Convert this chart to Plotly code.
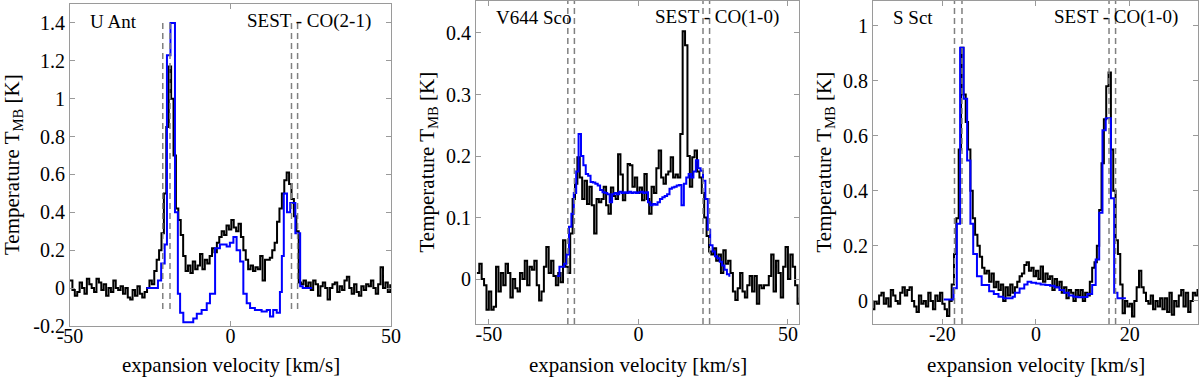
import numpy as np
import plotly.graph_objects as go

# --- U Ant, SEST CO(2-1) ---
uant_v0, uant_dv = -50.0, 0.75          # channel grid of the observed spectrum
uant_obs = [
    0.04, -0.01, -0.04, -0.02, 0.03, 0.0, -0.03, 0.05, 0.02, 0.0,
    -0.02, 0.05, 0.03, -0.01, 0.02, -0.04, 0.0, -0.02, 0.04, 0.0,
    -0.01, 0.01, -0.03, 0.0, -0.05, -0.06, -0.01, -0.04, 0.01, -0.03,
    -0.05, -0.02,
    0.0, 0.04, 0.02, 0.09, 0.15, 0.2, 0.29, 0.5,
    0.85, 1.17, 1.0, 0.7, 0.42, 0.36, 0.28, 0.17, 0.09, 0.12,
    0.08, 0.14, 0.10, 0.12, 0.18, 0.10, 0.15, 0.13, 0.17, 0.21,
    0.19, 0.24, 0.27, 0.30, 0.28, 0.33, 0.31, 0.36, 0.32, 0.30,
    0.34, 0.27, 0.20, 0.15, 0.10, 0.12, 0.09, 0.11, 0.10, 0.17,
    0.04, 0.15, 0.15, 0.16, 0.20, 0.24, 0.35, 0.42, 0.50, 0.57,
    0.61, 0.55, 0.47, 0.38, 0.30, 0.03, 0.02, 0.04,
    0.01, 0.03, -0.01, 0.04, 0.02, -0.04, 0.01, 0.03, 0.0, -0.06,
    0.0, 0.02, 0.03, -0.02, 0.01, -0.01, 0.04, 0.06, 0.0, -0.03,
    0.02, -0.02, -0.04, 0.01, -0.01, 0.02, 0.01, 0.04, 0.0, -0.03,
    0.02, 0.11, 0.0, 0.03, -0.02, 0.02,
]
uant_model_v = [-26.2, -22.6, -21.6, -20.5, -19.8, -18.7, -17.3, -16.4, -15.7, -14.7,
                -11.6, -10.5, -9.0, -7.4, -6.4, -4.8, -3.3, -1.2, -0.2, 0.9,
                1.9, 3.0, 4.0, 5.05, 6.1, 7.6, 9.7, 11.3, 12.3, 13.3,
                14.4, 15.4, 16.0, 16.6, 17.6, 18.6, 20.2, 21.7, 22.5, 25.4]
uant_model_t = [0.0, 0.04, 0.13, 0.23, 1.23, 1.40, 0.40, -0.03, -0.13, -0.18,
                -0.16, -0.135, -0.115, -0.08, -0.03, 0.21, 0.23, 0.22, 0.24, 0.27,
                0.20, 0.14, -0.03, -0.08, -0.105, -0.115, -0.124, -0.115, -0.15, -0.115,
                -0.13, -0.02, 0.17, 0.50, 0.40, 0.45, 0.29, 0.01, 0.0, 0.0]
uant_dash = [-21.1, -18.85, 19.0, 20.9]

# --- V644 Sco, SEST CO(1-0) ---
v644_v0, v644_dv = -54.0, 0.8
v644_obs = [
    0.01, 0.025, 0.0, -0.01, -0.05, -0.02, -0.05, -0.045, 0.02, -0.02,
    0.01, -0.01, 0.025, 0.01, -0.03, 0.0, -0.015, -0.02, 0.01, 0.0,
    0.03, -0.01, 0.02, 0.015, 0.03, -0.01, -0.035, -0.02, 0.02, 0.052,
    0.01, 0.03, 0.005, -0.01, 0.01, -0.005, 0.063, 0.02, 0.01, 0.074,
    0.13, 0.155, 0.198, 0.165, 0.13, 0.16, 0.122, 0.15, 0.12, 0.074,
    0.13, 0.125, 0.13, 0.15, 0.12, 0.106, 0.149, 0.135, 0.13, 0.203,
    0.17, 0.128, 0.14, 0.187, 0.185, 0.15, 0.165, 0.14, 0.149, 0.128,
    0.171, 0.13, 0.106, 0.15, 0.14, 0.18, 0.209, 0.165, 0.155, 0.17,
    0.175, 0.198, 0.165, 0.17, 0.165, 0.236, 0.403, 0.38, 0.2, 0.15,
    0.198, 0.209, 0.175, 0.165, 0.14, 0.1, 0.07, 0.045, 0.04, 0.05,
    0.03, 0.04, 0.01, 0.047, 0.025, 0.03, 0.01, -0.02, -0.034, -0.015,
    0.01, -0.02, -0.03, -0.01, 0.005, -0.02, 0.005, -0.04, -0.01, -0.015,
    -0.01, -0.01, 0.005, 0.04, -0.02, 0.03, 0.01, -0.03, 0.02, 0.052,
    0.0, 0.04, 0.02, -0.01, -0.04, -0.03,
]
v644_model_v0, v644_model_dv = -27.2, 0.8
v644_model = [
    0.005, 0.02, 0.02, 0.025, 0.04, 0.085, 0.106, 0.14, 0.175, 0.236,
    0.2, 0.185, 0.171, 0.168, 0.158, 0.157, 0.155, 0.152, 0.145, 0.141,
    0.14, 0.138, 0.125, 0.138, 0.14, 0.138, 0.142, 0.14, 0.141, 0.14,
    0.142, 0.14, 0.141, 0.14, 0.141, 0.142, 0.14, 0.141, 0.125, 0.12,
    0.122, 0.121, 0.125, 0.13, 0.133, 0.135, 0.138, 0.147, 0.149, 0.15,
    0.152, 0.153, 0.12, 0.155, 0.165, 0.171, 0.165, 0.175, 0.193, 0.18,
    0.176, 0.16, 0.13, 0.08, 0.055, 0.045, 0.037, 0.034, 0.028, 0.022,
    0.015, 0.008, 0.004,
]
v644_dash = [-23.6, -21.4, 21.6, 23.8]

# --- S Sct, SEST CO(1-0) ---
ssct_v0, ssct_dv = -35.0, 0.5
ssct_obs = [
    -0.03, 0.0, -0.01, 0.02, 0.03, -0.01, 0.01, -0.02, 0.04, 0.02,
    0.0, -0.01, 0.03, 0.05, 0.02, 0.04, 0.05, 0.0, -0.02, -0.04,
    0.02, -0.01, 0.0, -0.02, 0.03, 0.0, -0.03, 0.02, 0.0, 0.03,
    -0.01,
    -0.03, -0.055, 0.0, 0.06, 0.17, 0.3, 0.55, 0.92, 0.75,
    0.65, 0.55, 0.4, 0.3, 0.24, 0.2, 0.16, 0.12, 0.1, 0.11,
    0.07, 0.1, 0.05, 0.07, 0.04, 0.06, 0.0, 0.05, 0.02, 0.06,
    0.03, 0.05, 0.07, 0.09, 0.1, 0.13, 0.14, 0.11, 0.12, 0.09,
    0.11, 0.08, 0.125, 0.07, 0.1, 0.08, 0.09, 0.04, 0.08, 0.05,
    0.07, 0.03, 0.05, 0.01, 0.04, 0.03, 0.0, 0.04, 0.02, 0.04,
    0.0, 0.03, 0.02, 0.07, 0.12, 0.14, 0.2, 0.33, 0.5, 0.66,
    0.78, 0.83, 0.55, 0.4, 0.22, 0.17, 0.06, -0.045, 0.0, -0.02,
    -0.01, -0.057, 0.0, 0.05, 0.11, 0.05, 0.03, 0.0, -0.01, 0.02,
    -0.03, 0.0, -0.02, 0.01, -0.03, 0.01, -0.04, 0.03, -0.05, 0.0,
    -0.02, 0.02, 0.04, -0.02, 0.03, -0.04, 0.0, 0.03, 0.02, 0.04, 0.02,
]
ssct_model_v = [-19.7, -17.6, -16.9, -16.2, -15.45, -14.7, -14.0, -13.4, -12.6, -11.6,
                -10.0, -9.0, -8.0, -7.0, -6.0, -5.0, -4.5, -3.5, -2.5, -1.8,
                -1.0, 0.0, 1.0, 2.0, 3.0, 4.0, 5.0, 6.0, 7.0, 8.0,
                9.0, 10.0, 11.0, 12.0, 12.75, 13.5, 14.2, 14.9, 16.0, 16.7,
                17.4, 19.2]
ssct_model_t = [0.005, 0.046, 0.28, 0.92, 0.735, 0.51, 0.28, 0.17, 0.09, 0.058,
                0.035, 0.025, 0.015, 0.01, 0.01, 0.015, 0.03, 0.045, 0.06, 0.07,
                0.066, 0.063, 0.06, 0.058, 0.055, 0.05, 0.04, 0.03, 0.02, 0.015,
                0.013, 0.014, 0.025, 0.058, 0.15, 0.32, 0.62, 0.664, 0.373, 0.03,
                0.01, 0.01]
ssct_dash = [-17.4, -15.8, 15.6, 17.0]

FONT = "Liberation Serif, Times New Roman, Times, serif"
W, H = 1200, 378


def grid(v0, dv, vals):
    return v0 + dv * np.arange(len(vals))


panels = [
    dict(obs_v=grid(uant_v0, uant_dv, uant_obs), obs=uant_obs,
         mod_v=uant_model_v, mod=uant_model_t, dash=uant_dash, dash_y=(-0.11, 1.41),
         xr=[-50, 50], yr=[-0.2, 1.5],
         xt=[-50, 0, 50], yt=[-0.2, 0, 0.2, 0.4, 0.6, 0.8, 1, 1.2, 1.4],
         px=(70, 391), py=(4, 326), star="U Ant", line="SEST - CO(2-1)", lab_y=21, ytit_x=13),
    dict(obs_v=grid(v644_v0, v644_dv, v644_obs), obs=v644_obs,
         mod_v=grid(v644_model_v0, v644_model_dv, v644_model), mod=v644_model,
         dash=v644_dash, dash_y=None,
         xr=[-54.3, 53.7], yr=[-0.073, 0.452],
         xt=[-50, 0, 50], yt=[0, 0.1, 0.2, 0.3, 0.4],
         px=(476, 799), py=(1, 324), star="V644 Sco", line="SEST - CO(1-0)", lab_y=17, ytit_x=427),
    dict(obs_v=grid(ssct_v0, ssct_dv, ssct_obs), obs=ssct_obs,
         mod_v=ssct_model_v, mod=ssct_model_t, dash=ssct_dash, dash_y=None,
         xr=[-34.8, 34.6], yr=[-0.084, 1.09],
         xt=[-20, 0, 20], yt=[0, 0.2, 0.4, 0.6, 0.8, 1],
         px=(873, 1198), py=(1, 324), star="S Sct", line="SEST - CO(1-0)", lab_y=17, ytit_x=824),
]

fig = go.Figure()
annotations = []
shapes = []

for k, p in enumerate(panels, start=1):
    xa = "x" if k == 1 else f"x{k}"
    ya = "y" if k == 1 else f"y{k}"
    fig.add_trace(go.Scatter(
        x=p["obs_v"], y=p["obs"], mode="lines", line_shape="hv",
        line=dict(color="black", width=2), xaxis=xa, yaxis=ya, showlegend=False,
    ))
    fig.add_trace(go.Scatter(
        x=p["mod_v"], y=p["mod"], mode="lines", line_shape="hv",
        line=dict(color="#0000ff", width=2), xaxis=xa, yaxis=ya, showlegend=False,
    ))

    for d in p["dash"]:
        if p["dash_y"] is None:
            shapes.append(dict(type="line", xref=xa, yref=f"{ya} domain", x0=d, x1=d, y0=0, y1=1,
                               line=dict(color="#808080", width=1.5, dash="6px,4px")))
        else:
            shapes.append(dict(type="line", xref=xa, yref=ya, x0=d, x1=d,
                               y0=p["dash_y"][0], y1=p["dash_y"][1],
                               line=dict(color="#808080", width=1.5, dash="6px,4px")))

    xdom = [p["px"][0] / W, p["px"][1] / W]
    ydom = [(H - p["py"][1]) / H, (H - p["py"][0]) / H]
    axis_common = dict(
        showline=True, linecolor="#9a9a9a", linewidth=1, mirror="ticks",
        ticks="inside", ticklen=5, tickcolor="#9a9a9a", tickwidth=1,
        showgrid=False, zeroline=False, automargin=False,
        tickfont=dict(family=FONT, size=20, color="black"),
    )
    fig.update_layout({
        f"xaxis{'' if k == 1 else k}": dict(
            domain=xdom, range=p["xr"], anchor=ya,
            tickmode="array", tickvals=p["xt"], ticktext=[f"{t:g}" for t in p["xt"]],
            ticklabelstandoff=-8,
            **axis_common),
        f"yaxis{'' if k == 1 else k}": dict(
            domain=ydom, range=p["yr"], anchor=xa,
            tickmode="array", tickvals=p["yt"], ticktext=[f"{t:g}" for t in p["yt"]],
            **axis_common),
    })

    xc = (p["px"][0] + p["px"][1]) / 2 / W
    annotations.append(dict(text="expansion velocity [km/s]", x=xc, y=(H - 365) / H,
                            xref="paper", yref="paper", xanchor="center", yanchor="middle",
                            showarrow=False, font=dict(family=FONT, size=21, color="black")))
    yc = (H - (p["py"][0] + p["py"][1]) / 2) / H
    annotations.append(dict(text="Temperature T<sub>MB</sub> [K]", x=p["ytit_x"] / W, y=yc,
                            xref="paper", yref="paper", xanchor="center", yanchor="middle",
                            textangle=-90, showarrow=False,
                            font=dict(family=FONT, size=21, color="black")))
    annotations.append(dict(text=p["star"], x=(p["px"][0] + 18) / W, y=(H - p["lab_y"]) / H,
                            xref="paper", yref="paper", xanchor="left", yanchor="middle",
                            showarrow=False, font=dict(family=FONT, size=19, color="black")))
    annotations.append(dict(text=p["line"], x=(p["px"][1] - 18) / W, y=(H - p["lab_y"]) / H,
                            xref="paper", yref="paper", xanchor="right", yanchor="middle",
                            showarrow=False, font=dict(family=FONT, size=19, color="black")))

fig.update_layout(
    width=W, height=H,
    margin=dict(l=0, r=0, t=0, b=0),
    plot_bgcolor="white", paper_bgcolor="white",
    font=dict(family=FONT, size=19, color="black"),
    annotations=annotations, shapes=shapes,
    showlegend=False,
)

# the page body has a default 8px margin; drop it so the figure sits at the window origin
fig.write_html("out.html", config={"displayModeBar": False},
               post_script="document.body.style.margin='0';")
